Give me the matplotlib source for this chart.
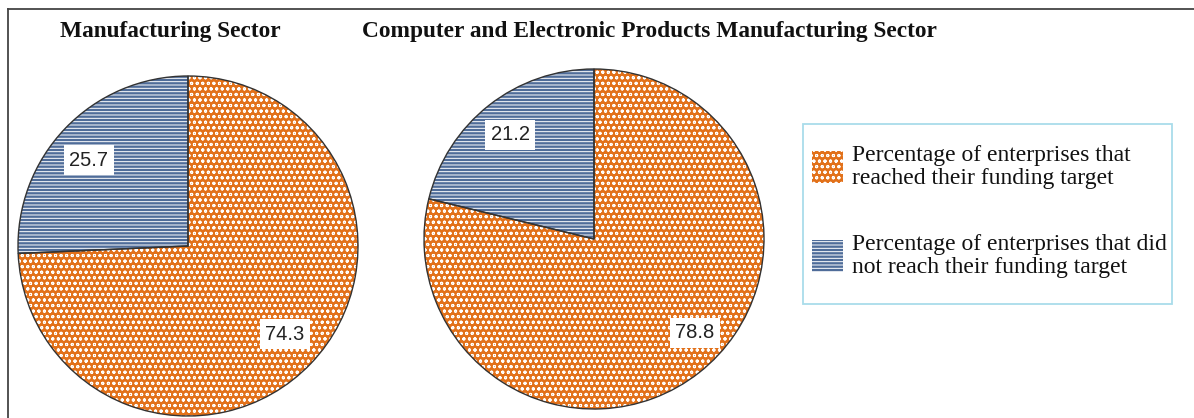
import matplotlib
matplotlib.use("Agg")
import matplotlib.pyplot as plt
from matplotlib.patches import Rectangle, Wedge
from matplotlib.lines import Line2D

# Data
sectors = ["Manufacturing Sector",
           "Computer and Electronic Products Manufacturing Sector"]
categories = ["Percentage of enterprises that\nreached their funding target",
              "Percentage of enterprises that did\nnot reach their funding target"]
reached = [74.3, 78.8]
not_reached = [25.7, 21.2]

ORANGE = "#E2711A"
BLUE = "#4F6C99"

plt.rcParams["hatch.linewidth"] = 0.7

W, H = 1194, 418
fig = plt.figure(figsize=(W / 100, H / 100), dpi=100)
ax = fig.add_axes([0, 0, 1, 1])

# pie layout in pixel coordinates (y measured upward)
centers = [(188, H - 246), (594, H - 239)]
radius = 170
title_pos = [(170, H - 31), (649, H - 31)]
label_pos = [
    [(285, H - 334), (89, H - 160)],
    [(695, H - 333), (510, H - 135)],
]

for i in range(2):
    vals = [not_reached[i], reached[i]]
    wedges, _ = ax.pie(vals, center=centers[i], radius=radius,
                       startangle=90, counterclock=True,
                       colors=[BLUE, ORANGE], frame=True)
    for w, hatch in zip(wedges, ["-----", "ooo"]):
        w.set_edgecolor("white")
        w.set_hatch(hatch)
        w.set_linewidth(0)
        ax.add_patch(Wedge(w.center, w.r, w.theta1, w.theta2, fill=False,
                           edgecolor="#333333", linewidth=1.0))
    ax.text(*title_pos[i], sectors[i], ha="center", va="center",
            fontsize=16.8, fontweight="bold", family="Liberation Serif",
            color="#111111")
    for (x, y), v in zip(label_pos[i], [reached[i], not_reached[i]]):
        ax.text(x, y, f"{v:.1f}", ha="center", va="center", fontsize=14.5,
                family="Liberation Sans", color="#222222",
                bbox=dict(boxstyle="square,pad=0.25", facecolor="white",
                          edgecolor="none"))

ax.set_xlim(0, W)
ax.set_ylim(0, H)
ax.set_aspect("equal")
ax.axis("off")

# legend panel
ax.add_patch(Rectangle((803, H - 304), 369, 180, fill=False,
                       edgecolor="#A9DCEA", linewidth=1.3))
legend_items = [(ORANGE, "ooo", H - 167), (BLUE, "-----", H - 256)]
for (col, hatch, yc), label in zip(legend_items, categories):
    ax.add_patch(Rectangle((812, yc - 16), 31, 32, facecolor=col,
                           edgecolor="white", hatch=hatch, linewidth=0))
    ax.text(852, yc, label, ha="left", va="center", fontsize=17,
            family="Liberation Serif", color="#111111", linespacing=1.12)

# frame lines along top and left
ax.add_line(Line2D([8, W], [H - 9, H - 9], color="#444444", linewidth=1.3))
ax.add_line(Line2D([8, 8], [0, H - 9], color="#444444", linewidth=1.3))

fig.savefig("out.png", dpi=100)
